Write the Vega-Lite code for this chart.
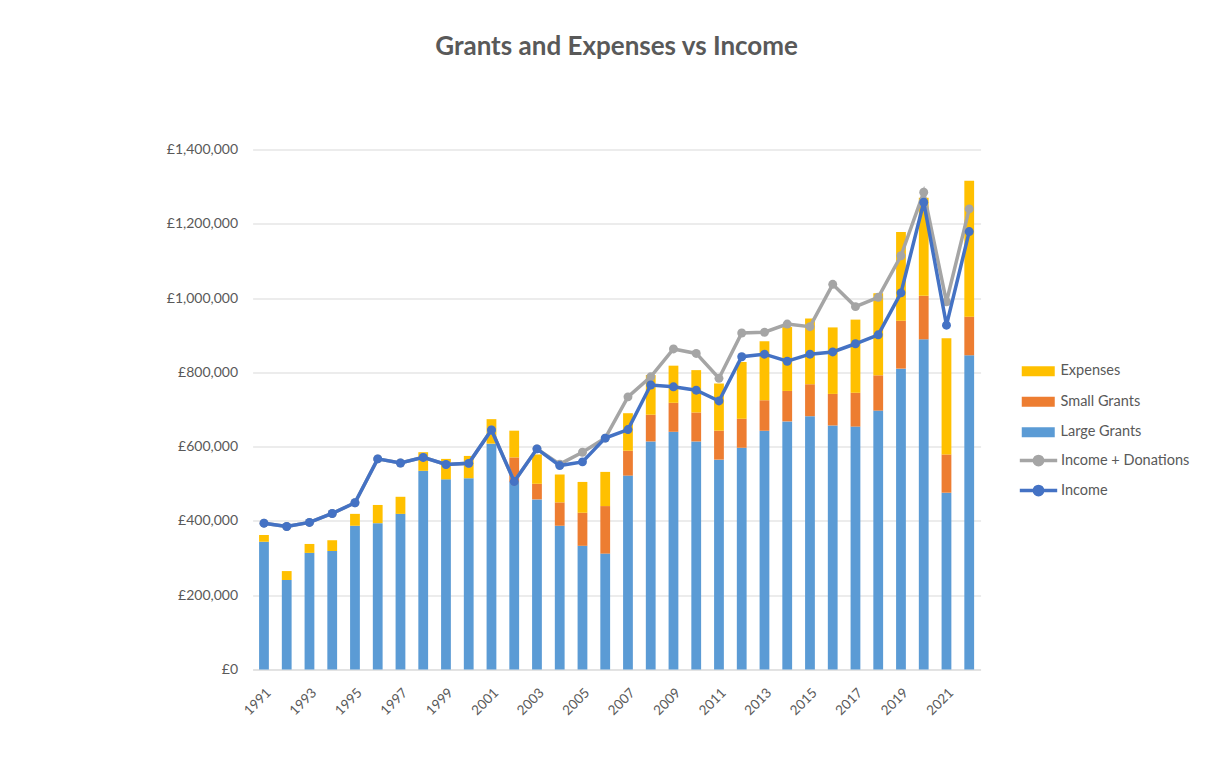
{
  "$schema": "https://vega.github.io/schema/vega-lite/v6.json",
  "width": 728,
  "height": 520,
  "autosize": {"type": "none"},
  "padding": {"left": 252.6, "top": 149.5, "right": 225.4, "bottom": 108.5},
  "background": "white",
  "title": {
    "text": "Grants and Expenses vs Income",
    "font": "Lato",
    "fontSize": 26,
    "fontWeight": "bold",
    "color": "#595959",
    "anchor": "middle",
    "offset": 83
  },
  "config": {
    "view": {"stroke": null},
    "font": "Lato"
  },
  "datasets": {
    "bars": [
      {"year": 1991, "series": "Large Grants", "value": 344000}, {"year": 1991, "series": "Expenses", "value": 18000},
      {"year": 1992, "series": "Large Grants", "value": 241000}, {"year": 1992, "series": "Expenses", "value": 24000},
      {"year": 1993, "series": "Large Grants", "value": 314000}, {"year": 1993, "series": "Expenses", "value": 24000},
      {"year": 1994, "series": "Large Grants", "value": 319000}, {"year": 1994, "series": "Expenses", "value": 29000},
      {"year": 1995, "series": "Large Grants", "value": 387000}, {"year": 1995, "series": "Expenses", "value": 32000},
      {"year": 1996, "series": "Large Grants", "value": 394000}, {"year": 1996, "series": "Expenses", "value": 49000},
      {"year": 1997, "series": "Large Grants", "value": 419000}, {"year": 1997, "series": "Expenses", "value": 46000},
      {"year": 1998, "series": "Large Grants", "value": 535000}, {"year": 1998, "series": "Expenses", "value": 50000},
      {"year": 1999, "series": "Large Grants", "value": 512000}, {"year": 1999, "series": "Expenses", "value": 55000},
      {"year": 2000, "series": "Large Grants", "value": 515000}, {"year": 2000, "series": "Expenses", "value": 60000},
      {"year": 2001, "series": "Large Grants", "value": 608000}, {"year": 2001, "series": "Expenses", "value": 66000},
      {"year": 2002, "series": "Large Grants", "value": 505000}, {"year": 2002, "series": "Small Grants", "value": 66000}, {"year": 2002, "series": "Expenses", "value": 72000},
      {"year": 2003, "series": "Large Grants", "value": 458000}, {"year": 2003, "series": "Small Grants", "value": 42000}, {"year": 2003, "series": "Expenses", "value": 79000},
      {"year": 2004, "series": "Large Grants", "value": 387000}, {"year": 2004, "series": "Small Grants", "value": 63000}, {"year": 2004, "series": "Expenses", "value": 75000},
      {"year": 2005, "series": "Large Grants", "value": 333000}, {"year": 2005, "series": "Small Grants", "value": 89000}, {"year": 2005, "series": "Expenses", "value": 83000},
      {"year": 2006, "series": "Large Grants", "value": 312000}, {"year": 2006, "series": "Small Grants", "value": 128000}, {"year": 2006, "series": "Expenses", "value": 92000},
      {"year": 2007, "series": "Large Grants", "value": 522000}, {"year": 2007, "series": "Small Grants", "value": 67000}, {"year": 2007, "series": "Expenses", "value": 101000},
      {"year": 2008, "series": "Large Grants", "value": 614000}, {"year": 2008, "series": "Small Grants", "value": 72000}, {"year": 2008, "series": "Expenses", "value": 107000},
      {"year": 2009, "series": "Large Grants", "value": 640000}, {"year": 2009, "series": "Small Grants", "value": 78000}, {"year": 2009, "series": "Expenses", "value": 100000},
      {"year": 2010, "series": "Large Grants", "value": 614000}, {"year": 2010, "series": "Small Grants", "value": 78000}, {"year": 2010, "series": "Expenses", "value": 114000},
      {"year": 2011, "series": "Large Grants", "value": 565000}, {"year": 2011, "series": "Small Grants", "value": 78000}, {"year": 2011, "series": "Expenses", "value": 127000},
      {"year": 2012, "series": "Large Grants", "value": 597000}, {"year": 2012, "series": "Small Grants", "value": 78000}, {"year": 2012, "series": "Expenses", "value": 153000},
      {"year": 2013, "series": "Large Grants", "value": 643000}, {"year": 2013, "series": "Small Grants", "value": 82000}, {"year": 2013, "series": "Expenses", "value": 159000},
      {"year": 2014, "series": "Large Grants", "value": 668000}, {"year": 2014, "series": "Small Grants", "value": 82000}, {"year": 2014, "series": "Expenses", "value": 172000},
      {"year": 2015, "series": "Large Grants", "value": 682000}, {"year": 2015, "series": "Small Grants", "value": 86000}, {"year": 2015, "series": "Expenses", "value": 177000},
      {"year": 2016, "series": "Large Grants", "value": 657000}, {"year": 2016, "series": "Small Grants", "value": 85000}, {"year": 2016, "series": "Expenses", "value": 179000},
      {"year": 2017, "series": "Large Grants", "value": 654000}, {"year": 2017, "series": "Small Grants", "value": 91000}, {"year": 2017, "series": "Expenses", "value": 197000},
      {"year": 2018, "series": "Large Grants", "value": 697000}, {"year": 2018, "series": "Small Grants", "value": 95000}, {"year": 2018, "series": "Expenses", "value": 221000},
      {"year": 2019, "series": "Large Grants", "value": 810000}, {"year": 2019, "series": "Small Grants", "value": 129000}, {"year": 2019, "series": "Expenses", "value": 239000},
      {"year": 2020, "series": "Large Grants", "value": 889000}, {"year": 2020, "series": "Small Grants", "value": 117000}, {"year": 2020, "series": "Expenses", "value": 264000},
      {"year": 2021, "series": "Large Grants", "value": 476000}, {"year": 2021, "series": "Small Grants", "value": 103000}, {"year": 2021, "series": "Expenses", "value": 313000},
      {"year": 2022, "series": "Large Grants", "value": 846000}, {"year": 2022, "series": "Small Grants", "value": 104000}, {"year": 2022, "series": "Expenses", "value": 366000}
    ],
    "lines": [
      {"year": 1991, "series": "Income + Donations", "value": 394000},
      {"year": 1992, "series": "Income + Donations", "value": 385000},
      {"year": 1993, "series": "Income + Donations", "value": 396000},
      {"year": 1994, "series": "Income + Donations", "value": 420000},
      {"year": 1995, "series": "Income + Donations", "value": 449000},
      {"year": 1996, "series": "Income + Donations", "value": 567000},
      {"year": 1997, "series": "Income + Donations", "value": 556000},
      {"year": 1998, "series": "Income + Donations", "value": 571000},
      {"year": 1999, "series": "Income + Donations", "value": 552000},
      {"year": 2000, "series": "Income + Donations", "value": 555000},
      {"year": 2001, "series": "Income + Donations", "value": 645000},
      {"year": 2002, "series": "Income + Donations", "value": 506000},
      {"year": 2003, "series": "Income + Donations", "value": 594000},
      {"year": 2004, "series": "Income + Donations", "value": 553000},
      {"year": 2005, "series": "Income + Donations", "value": 585000},
      {"year": 2006, "series": "Income + Donations", "value": 623000},
      {"year": 2007, "series": "Income + Donations", "value": 734000},
      {"year": 2008, "series": "Income + Donations", "value": 788000},
      {"year": 2009, "series": "Income + Donations", "value": 863000},
      {"year": 2010, "series": "Income + Donations", "value": 851000},
      {"year": 2011, "series": "Income + Donations", "value": 784000},
      {"year": 2012, "series": "Income + Donations", "value": 906000},
      {"year": 2013, "series": "Income + Donations", "value": 908000},
      {"year": 2014, "series": "Income + Donations", "value": 930000},
      {"year": 2015, "series": "Income + Donations", "value": 923000},
      {"year": 2016, "series": "Income + Donations", "value": 1037000},
      {"year": 2017, "series": "Income + Donations", "value": 977000},
      {"year": 2018, "series": "Income + Donations", "value": 1002000},
      {"year": 2019, "series": "Income + Donations", "value": 1114000},
      {"year": 2020, "series": "Income + Donations", "value": 1285000},
      {"year": 2021, "series": "Income + Donations", "value": 990000},
      {"year": 2022, "series": "Income + Donations", "value": 1240000},
      {"year": 1991, "series": "Income", "value": 394000},
      {"year": 1992, "series": "Income", "value": 385000},
      {"year": 1993, "series": "Income", "value": 396000},
      {"year": 1994, "series": "Income", "value": 420000},
      {"year": 1995, "series": "Income", "value": 449000},
      {"year": 1996, "series": "Income", "value": 567000},
      {"year": 1997, "series": "Income", "value": 556000},
      {"year": 1998, "series": "Income", "value": 571000},
      {"year": 1999, "series": "Income", "value": 552000},
      {"year": 2000, "series": "Income", "value": 555000},
      {"year": 2001, "series": "Income", "value": 645000},
      {"year": 2002, "series": "Income", "value": 506000},
      {"year": 2003, "series": "Income", "value": 594000},
      {"year": 2004, "series": "Income", "value": 549000},
      {"year": 2005, "series": "Income", "value": 559000},
      {"year": 2006, "series": "Income", "value": 623000},
      {"year": 2007, "series": "Income", "value": 646000},
      {"year": 2008, "series": "Income", "value": 766000},
      {"year": 2009, "series": "Income", "value": 761000},
      {"year": 2010, "series": "Income", "value": 752000},
      {"year": 2011, "series": "Income", "value": 723000},
      {"year": 2012, "series": "Income", "value": 842000},
      {"year": 2013, "series": "Income", "value": 849000},
      {"year": 2014, "series": "Income", "value": 830000},
      {"year": 2015, "series": "Income", "value": 849000},
      {"year": 2016, "series": "Income", "value": 855000},
      {"year": 2017, "series": "Income", "value": 877000},
      {"year": 2018, "series": "Income", "value": 901000},
      {"year": 2019, "series": "Income", "value": 1014000},
      {"year": 2020, "series": "Income", "value": 1258000},
      {"year": 2021, "series": "Income", "value": 927000},
      {"year": 2022, "series": "Income", "value": 1179000}
    ]
  },
  "encoding": {
    "x": {
      "field": "year",
      "type": "ordinal",
      "scale": {"paddingInner": 0.57, "paddingOuter": 0.285},
      "axis": {
        "title": null,
        "values": [1991, 1993, 1995, 1997, 1999, 2001, 2003, 2005, 2007, 2009, 2011, 2013, 2015, 2017, 2019, 2021],
        "labelAngle": -45,
        "labelAlign": "right",
        "labelBaseline": "top",
        "ticks": false,
        "domainColor": "#D9D9D9",
        "domainWidth": 1,
        "labelColor": "#595959",
        "labelFont": "Lato",
        "labelFontSize": 13.5,
        "labelPadding": 16,
        "grid": false
      }
    },
    "y": {
      "field": "value",
      "type": "quantitative",
      "scale": {"domain": [0, 1400000], "nice": false},
      "axis": {
        "title": null,
        "values": [0, 200000, 400000, 600000, 800000, 1000000, 1200000, 1400000],
        "labelExpr": "'£' + format(datum.value, ',')",
        "domain": false,
        "ticks": false,
        "grid": true,
        "gridColor": "#D9D9D9",
        "gridWidth": 1,
        "labelColor": "#595959",
        "labelFont": "Lato",
        "labelFontSize": 14,
        "labelPadding": 15
      }
    }
  },
  "layer": [
    {
      "data": {"name": "bars"},
      "transform": [
        {"window": [{"op": "row_number", "as": "stackpos"}], "groupby": ["year"]}
      ],
      "mark": {"type": "bar"},
      "encoding": {
        "y": {"field": "value", "type": "quantitative", "stack": "zero"},
        "order": {"field": "stackpos", "type": "quantitative", "sort": "ascending"},
        "color": {
          "field": "series",
          "type": "nominal",
          "sort": ["Expenses", "Small Grants", "Large Grants"],
          "scale": {"domain": ["Expenses", "Small Grants", "Large Grants"], "range": ["#FFC000", "#ED7D31", "#5B9BD5"]},
          "legend": {
            "orient": "none",
            "legendX": 778.4,
            "legendY": 214.5,
            "title": null,
            "symbolType": "M-3,-0.9H3V0.9H-3Z",
            "symbolSize": 121,
            "symbolStrokeWidth": 0,
            "labelFont": "Lato",
            "labelFontSize": 14.5,
            "labelColor": "#595959",
            "labelOffset": 15,
            "rowPadding": 15.5
          }
        }
      }
    },
    {
      "data": {"name": "lines"},
      "transform": [{"filter": "datum.series === 'Income + Donations'"}],
      "mark": {"type": "line", "strokeWidth": 3.5},
      "encoding": {
        "stroke": {
          "field": "series",
          "type": "nominal",
          "sort": ["Income + Donations", "Income"],
          "scale": {"domain": ["Income + Donations", "Income"], "range": ["#A5A5A5", "#4472C4"]},
          "legend": {
            "orient": "none",
            "legendX": 778.4,
            "legendY": 303.5,
            "title": null,
            "symbolType": "M-3.4,0H3.4M0.75,0A0.75,0.75 0 1,1 -0.75,0A0.75,0.75 0 1,1 0.75,0Z",
            "symbolSize": 121,
            "symbolStrokeWidth": 3.5,
            "labelFont": "Lato",
            "labelFontSize": 14.5,
            "labelColor": "#595959",
            "labelOffset": 15,
            "rowPadding": 7,
            "encode": {"symbols": {"update": {"fill": {"scale": "stroke", "field": "value"}}}}
          }
        }
      }
    },
    {
      "data": {"name": "lines"},
      "transform": [{"filter": "datum.series === 'Income + Donations'"}],
      "mark": {"type": "circle", "size": 80, "opacity": 1},
      "encoding": {
        "fill": {
          "field": "series",
          "type": "nominal",
          "scale": {"domain": ["Income + Donations", "Income"], "range": ["#A5A5A5", "#4472C4"]},
          "legend": null
        }
      }
    },
    {
      "data": {"name": "lines"},
      "transform": [{"filter": "datum.series === 'Income'"}],
      "mark": {"type": "line", "strokeWidth": 3.5},
      "encoding": {
        "stroke": {
          "field": "series",
          "type": "nominal",
          "sort": ["Income + Donations", "Income"],
          "scale": {"domain": ["Income + Donations", "Income"], "range": ["#A5A5A5", "#4472C4"]},
          "legend": {
            "orient": "none",
            "legendX": 778.4,
            "legendY": 303.5,
            "title": null,
            "symbolType": "M-3.4,0H3.4M0.75,0A0.75,0.75 0 1,1 -0.75,0A0.75,0.75 0 1,1 0.75,0Z",
            "symbolSize": 121,
            "symbolStrokeWidth": 3.5,
            "labelFont": "Lato",
            "labelFontSize": 14.5,
            "labelColor": "#595959",
            "labelOffset": 15,
            "rowPadding": 7,
            "encode": {"symbols": {"update": {"fill": {"scale": "stroke", "field": "value"}}}}
          }
        }
      }
    },
    {
      "data": {"name": "lines"},
      "transform": [{"filter": "datum.series === 'Income'"}],
      "mark": {"type": "circle", "size": 80, "opacity": 1},
      "encoding": {
        "fill": {
          "field": "series",
          "type": "nominal",
          "scale": {"domain": ["Income + Donations", "Income"], "range": ["#A5A5A5", "#4472C4"]},
          "legend": null
        }
      }
    }
  ]
}
